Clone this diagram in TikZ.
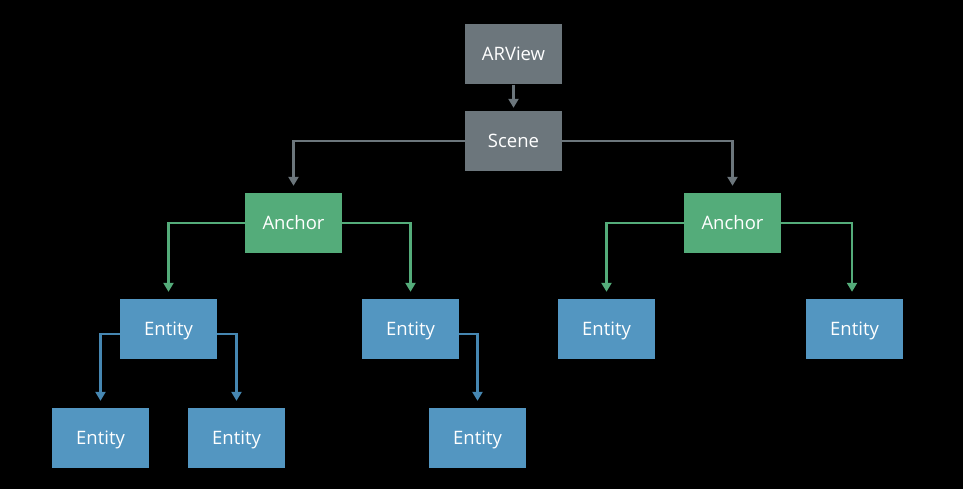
\documentclass[tikz,border=0pt]{standalone}
\usepackage{fontspec}
\setmainfont{Open Sans}
\usetikzlibrary{arrows.meta}
\definecolor{boxgray}{RGB}{108,118,124}
\definecolor{boxgreen}{RGB}{84,172,122}
\definecolor{boxblue}{RGB}{83,150,193}
\definecolor{lineblue}{RGB}{70,135,178}
\tikzset{
  box/.style={minimum width=97pt,minimum height=60pt,inner sep=0pt,text=white,
    text height=13pt,text depth=0pt,font=\fontsize{18.5}{21}\selectfont},
  graybox/.style={box,fill=boxgray},
  greenbox/.style={box,fill=boxgreen},
  bluebox/.style={box,fill=boxblue},
  conn/.style={line width=2.2pt,-{Triangle[width=10pt,length=9pt]},shorten >=7pt},
}
\begin{document}
\begin{tikzpicture}[x=1pt,y=-1pt]
\fill[black] (0,0) rectangle (963,489);
\useasboundingbox (0,0) rectangle (963,489);
\node[graybox] (arview) at (513.5,54.5) {ARView};
\node[graybox] (scene) at (513.5,141) {Scene};
\node[greenbox] (a1) at (293.5,223) {Anchor};
\node[greenbox] (a2) at (732.5,223) {Anchor};
\node[bluebox] (e1) at (168.5,329) {Entity};
\node[bluebox] (e2) at (410.5,329) {Entity};
\node[bluebox] (e3) at (606.5,329) {Entity};
\node[bluebox] (e4) at (854.5,329) {Entity};
\node[bluebox] (e5) at (100.5,438) {Entity};
\node[bluebox] (e6) at (236.5,438) {Entity};
\node[bluebox] (e7) at (477.5,438) {Entity};
\draw[conn,boxgray,shorten >=3pt] (arview) -- (scene);
\draw[conn,boxgray] (scene.west) -| (a1.north);
\draw[conn,boxgray] (scene.east) -| (a2.north);
\draw[conn,boxgreen] (a1.west) -| (e1.north);
\draw[conn,boxgreen] (a1.east) -| (e2.north);
\draw[conn,boxgreen] (a2.west) -| (e3.north);
\draw[conn,boxgreen] (a2.east) -| ([xshift=-2.5pt]e4.north);
\draw[conn,lineblue] ([yshift=-5pt]e1.west) -| (e5.north);
\draw[conn,lineblue] ([yshift=-5pt]e1.east) -| (e6.north);
\draw[conn,lineblue] ([yshift=-5pt]e2.east) -| (e7.north);
\end{tikzpicture}
\end{document}
